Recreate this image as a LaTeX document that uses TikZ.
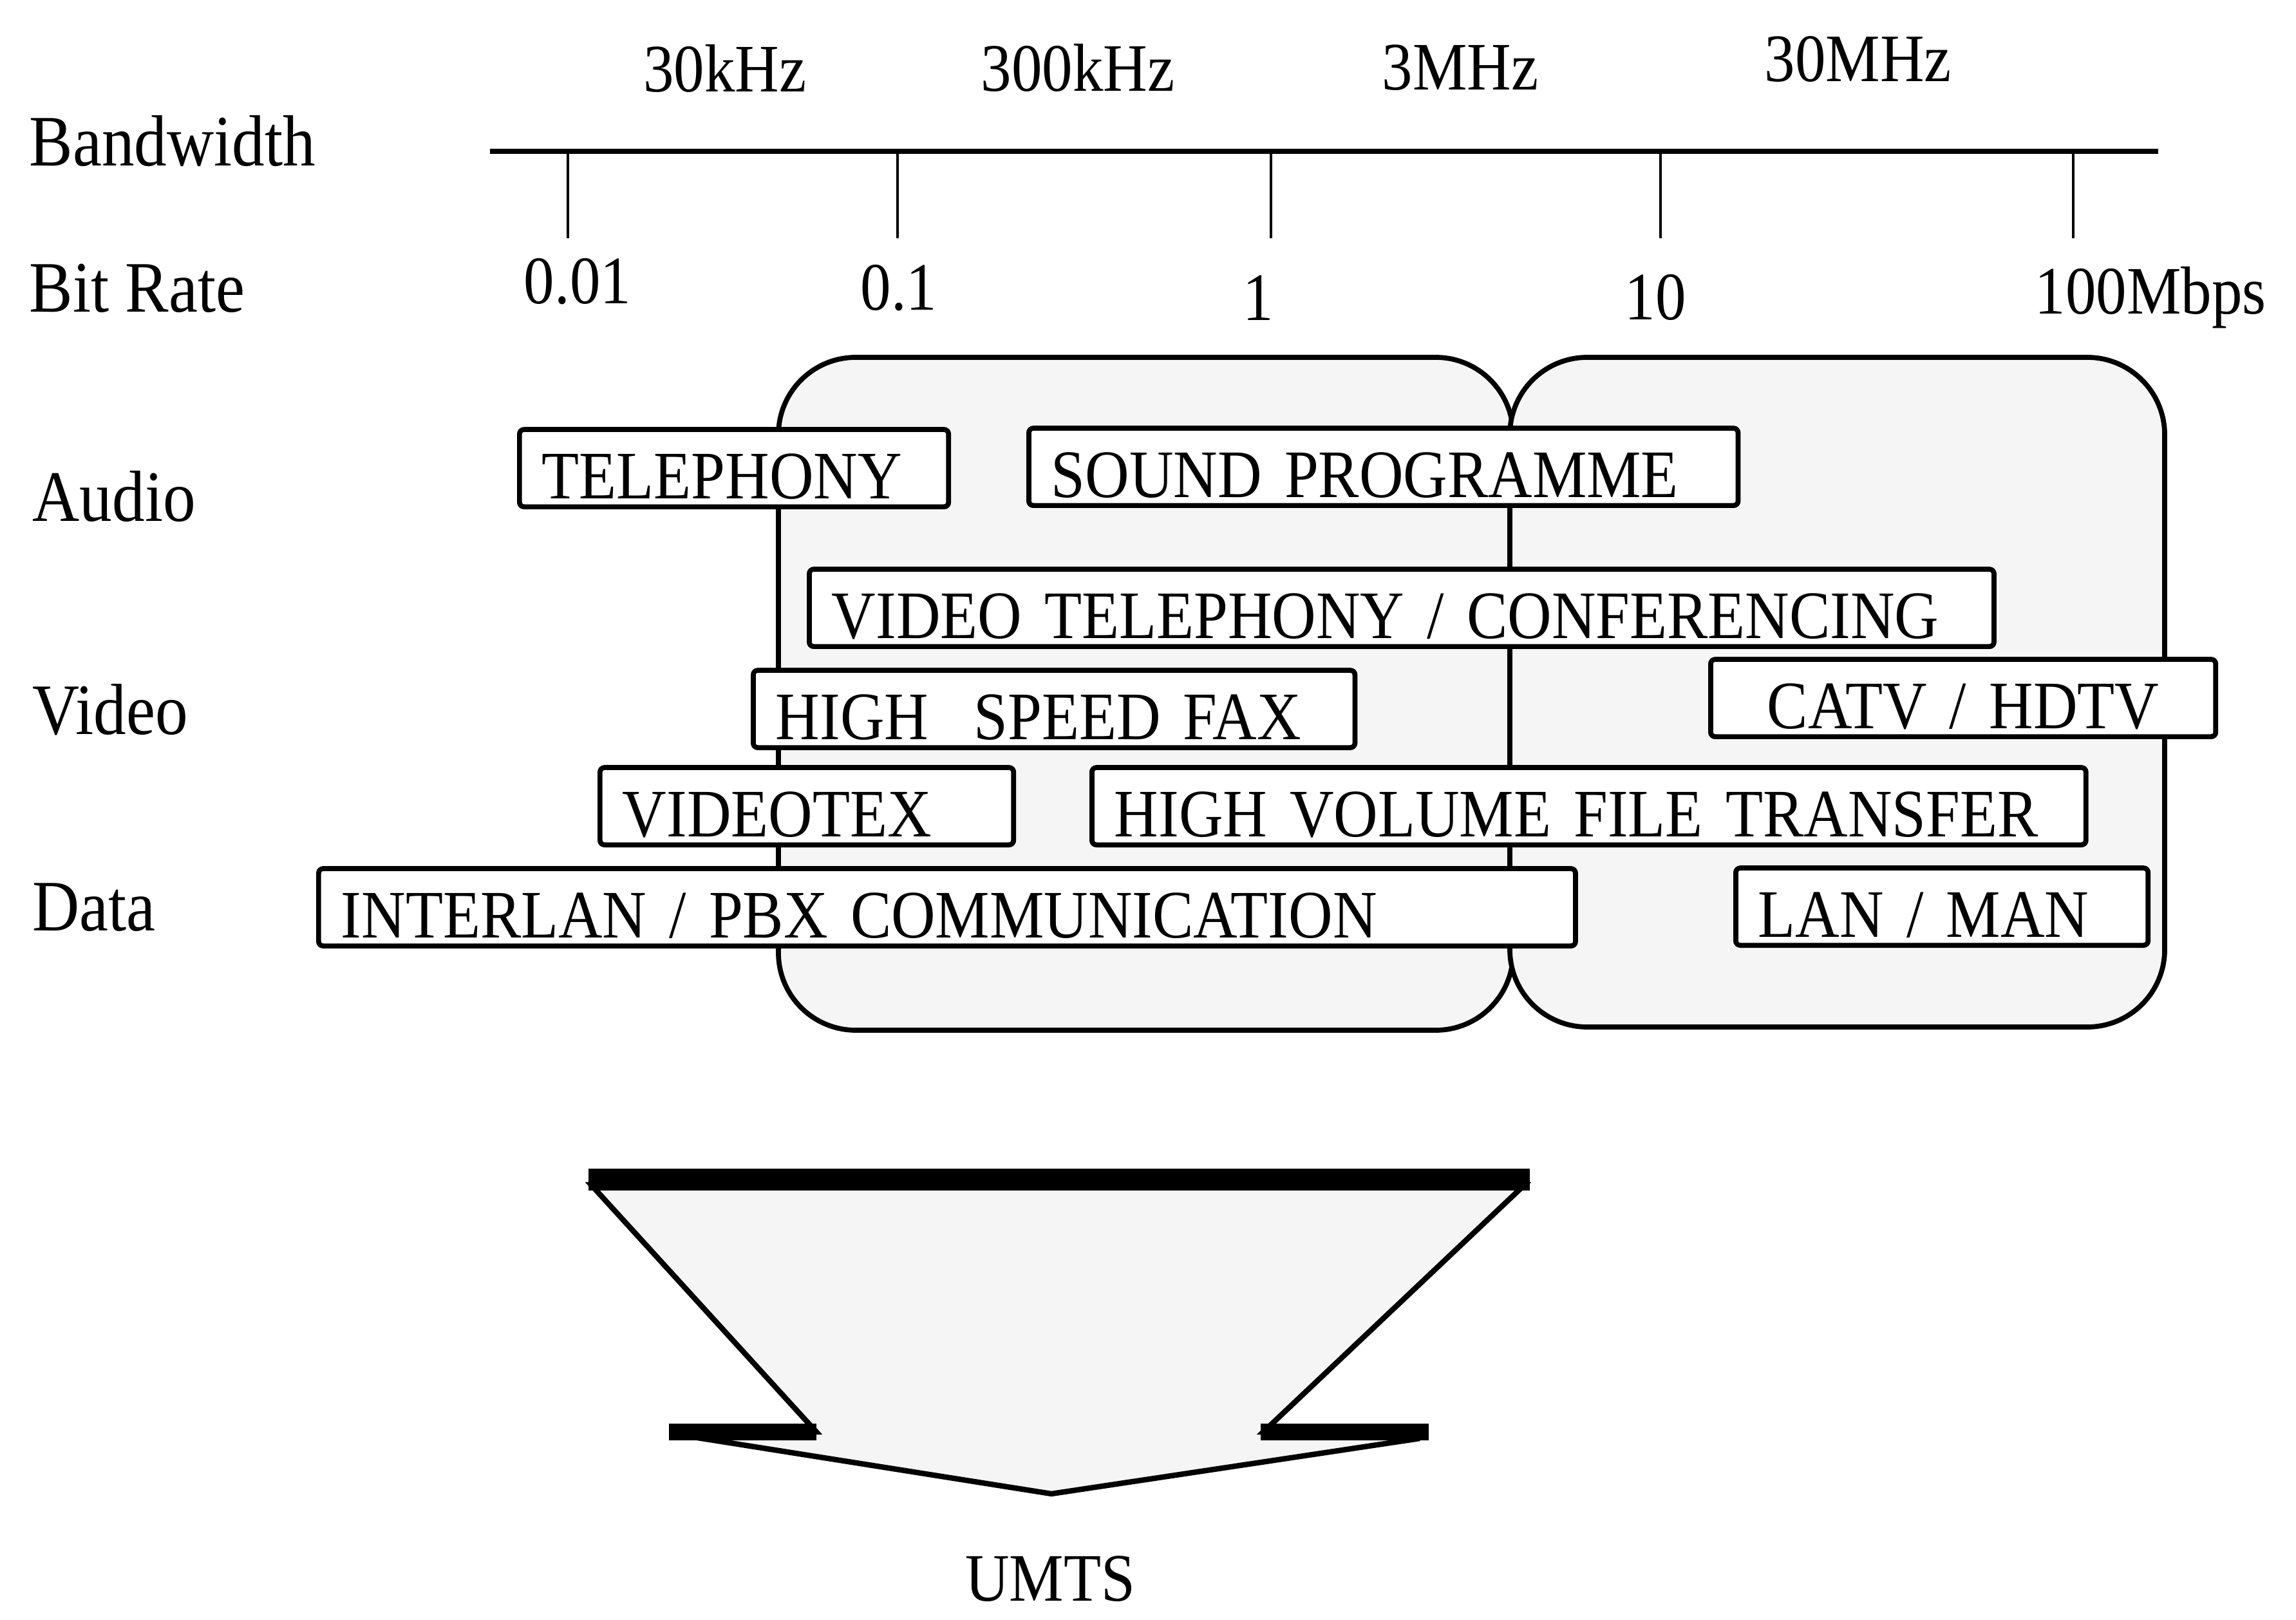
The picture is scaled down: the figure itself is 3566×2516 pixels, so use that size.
\documentclass[tikz,border=0pt]{standalone}
\usepackage{fontspec}
\setmainfont{Liberation Serif}[FakeStretch=0.9]
\usetikzlibrary{positioning}

\begin{document}
\begin{tikzpicture}[x=0.01cm,y=-0.01cm,
  lbl/.style={font=\fontsize{32}{36}\selectfont,inner sep=0pt,anchor=base west},
  val/.style={font=\fontsize{30}{34}\selectfont,inner sep=0pt,anchor=base},
  svc/.style={draw,line width=2.2pt,fill=white,rounded corners=2pt,anchor=south west,align=left,
    font=\fontsize{30}{34}\selectfont,inner xsep=0.35cm,inner ysep=0.05cm,text height=1.02cm,text depth=0.08cm},
  grp/.style={draw,line width=2.2pt,rounded corners=1.2cm,fill=black!4}]
  \useasboundingbox (0,0) rectangle (3566,2516);
  % scale
  \node[lbl] (bw) at (45,258) {Bandwidth};
  \node[lbl] (br) at (45,485) {Bit Rate};
  \node[val] (f1) at (1126,143) {30kHz};
  \node[val] (f2) at (1674,142) {300kHz};
  \node[val] (f3) at (2268,140) {3MHz};
  \node[val] (f4) at (2886,127) {30MHz};
  \draw[line width=2.5pt] (761,235) -- (3352,235);
  \foreach \x in {882,1394,1974,2579,3220}
    \draw[line width=1.2pt] (\x,235) -- (\x,370);
  \node[val] (r1) at (897,472) {0.01};
  \node[val] (r2) at (1396,482) {0.1};
  \node[val] (r3) at (1954,498) {1};
  \node[val] (r4) at (2571,497) {10};
  \node[val,anchor=base west] (r5) at (3160,488) {100Mbps};
  % services
  \node[lbl] (audio) at (50,810) {Audio};
  \node[lbl] (video) at (50,1140) {Video};
  \node[lbl] (data) at (50,1445) {Data};
  \draw[grp] (1209,555) rectangle (2350,1600);
  \draw[grp] (2345,555) rectangle (3362,1595);
  \node[svc,text width=5.96cm] (tel) at (803,791) {TELEPHONY};
  \node[svc,text width=10.31cm] (snd) at (1594,789) {SOUND PROGRAMME};
  \node[svc,text width=17.69cm] (vtc) at (1253,1008) {VIDEO TELEPHONY / CONFERENCING};
  \node[svc,text width=8.64cm] (fax) at (1166,1165) {HIGH\ \ SPEED FAX};
  \node[svc,text width=7.14cm,align=center] (catv) at (2653,1148) {CATV / HDTV};
  \node[svc,text width=5.72cm] (vtx) at (928,1316) {VIDEOTEX};
  \node[svc,text width=14.73cm] (hvft) at (1692,1316) {HIGH VOLUME FILE TRANSFER};
  \node[svc,text width=18.81cm] (pbx) at (491,1473) {INTERLAN / PBX COMMUNICATION};
  \node[svc,text width=5.70cm] (lan) at (2692,1472) {LAN / MAN};
  % arrow
  \draw[fill=black!4,line width=2.4pt,line join=miter]
    (918,1840) -- (2368,1840) -- (1962,2224) -- (2205,2234) -- (1633,2320)
    -- (1090,2234) -- (1268,2224) -- cycle;
  \draw[line width=9.5pt] (914,1832) -- (2376,1832);
  \draw[line width=7.4pt] (1039,2224) -- (1268,2224);
  \draw[line width=7.4pt] (1958,2224) -- (2219,2224);
  \node[val] (umts) at (1631,2486) {UMTS};
\end{tikzpicture}
\end{document}
